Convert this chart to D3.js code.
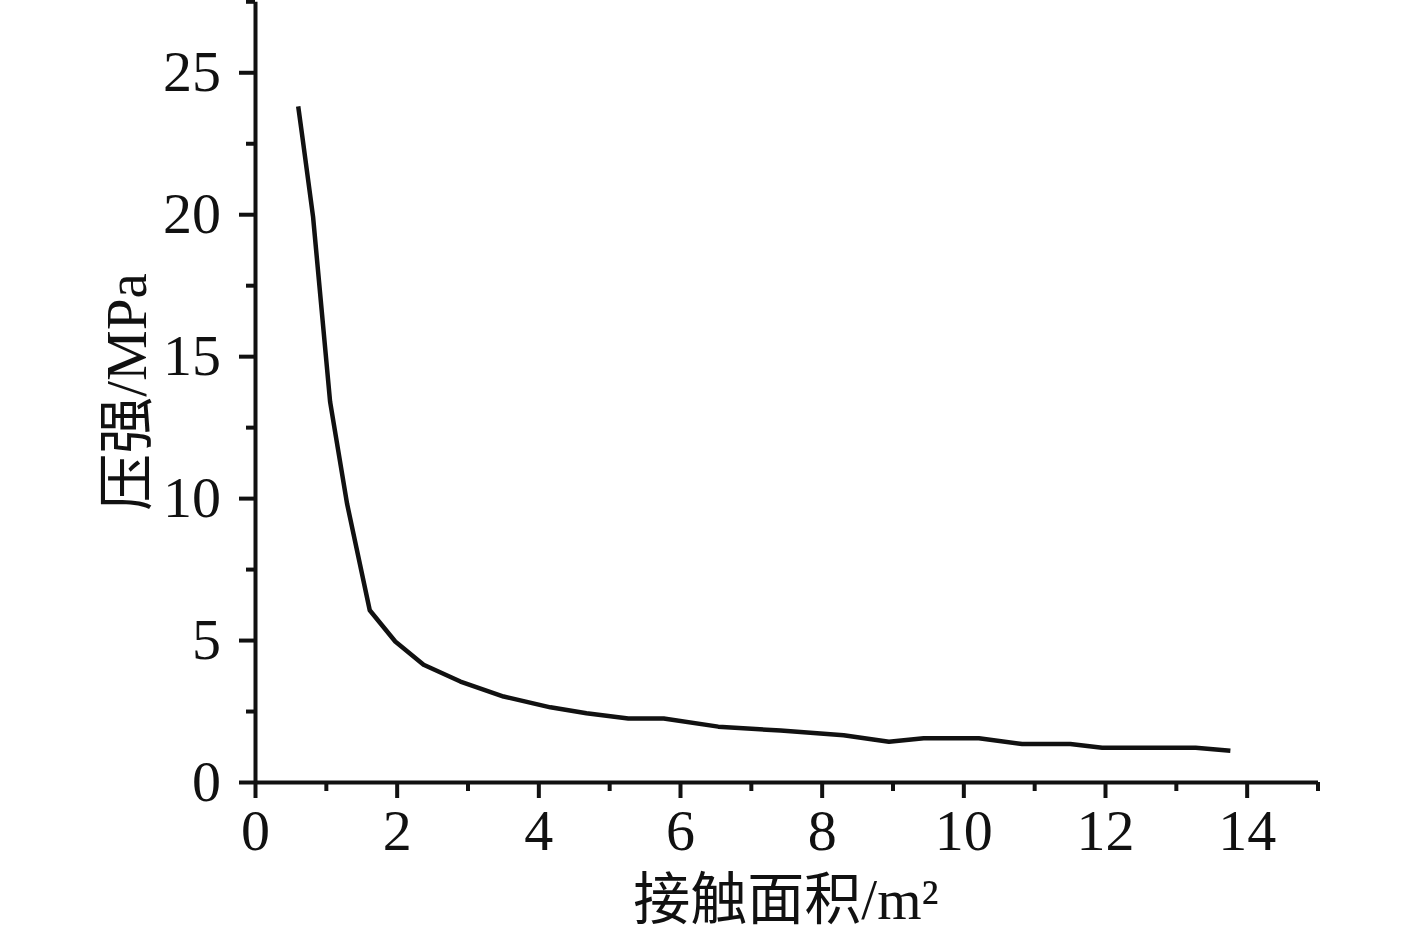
<!DOCTYPE html>
<html>
<head>
<meta charset="utf-8">
<script src="https://cdn.jsdelivr.net/npm/d3@7"></script>
<style>
  body { margin: 0; background: #fff; }
  svg { display: block; }
</style>
</head>
<body>
<script>
// Data
const area = [0.61, 0.67, 0.82, 1.06, 1.30, 1.62, 1.98, 2.38, 2.90, 3.51, 4.17, 4.68, 5.27, 5.77,
              6.54, 7.42, 8.31, 8.95, 9.44, 10.22, 10.83, 11.51, 11.96, 13.28, 13.77];
const pressure = [23.8, 22.7, 19.9, 13.4, 9.8, 6.05, 4.95, 4.13, 3.54, 3.01, 2.63, 2.42, 2.24, 2.24,
                  1.95, 1.81, 1.65, 1.42, 1.54, 1.54, 1.34, 1.34, 1.21, 1.21, 1.10];
const xMajor = [0, 2, 4, 6, 8, 10, 12, 14];
const xMinor = [1, 3, 5, 7, 9, 11, 13, 15];
const yMajor = [0, 5, 10, 15, 20, 25];
const yMinor = [2.5, 7.5, 12.5, 17.5, 22.5, 27.5];
const xTitle = "接触面积/m²";
const yTitle = "压强/MPa";

const W = 1417, H = 930;
const margin = { top: 1.3, left: 255 };
const width = 1062.5, height = 780.7;
const font = "'Liberation Serif', 'Times New Roman', 'Noto Sans CJK SC', serif";

const svg = d3.select("body").append("svg")
    .attr("width", W)
    .attr("height", H);

const g = svg.append("g")
    .attr("transform", `translate(${margin.left},${margin.top})`);

const x = d3.scaleLinear().domain([0, 15]).range([0, width]);
const y = d3.scaleLinear().domain([0, 27.5]).range([height, 0]);

// minor ticks
g.append("g")
    .attr("transform", `translate(0,${height})`)
    .call(d3.axisBottom(x).tickValues(xMinor).tickSize(9).tickFormat(""))
    .call(a => a.select(".domain").remove());
g.append("g")
    .call(d3.axisLeft(y).tickValues(yMinor).tickSize(9).tickFormat(""))
    .call(a => a.select(".domain").remove());

// major ticks + labels
const xAxis = g.append("g")
    .attr("transform", `translate(0,${height})`)
    .call(d3.axisBottom(x).tickValues(xMajor).tickSize(16).tickSizeOuter(0).tickPadding(11));
const yAxis = g.append("g")
    .call(d3.axisLeft(y).tickValues(yMajor).tickSize(16).tickSizeOuter(0).tickPadding(18));

[xAxis, yAxis].forEach(a => {
    a.select(".domain").attr("stroke-width", 4).attr("stroke", "#111");
    a.selectAll(".tick text")
        .attr("font-family", font)
        .attr("font-size", 58)
        .attr("fill", "#111");
});
g.selectAll(".tick line").attr("stroke-width", 4).attr("stroke", "#111");

// the curve
const line = d3.line()
    .x((d, i) => x(area[i]))
    .y(d => y(d));

g.append("path")
    .datum(pressure)
    .attr("fill", "none")
    .attr("stroke", "#111")
    .attr("stroke-width", 4.5)
    .attr("stroke-linejoin", "round")
    .attr("d", line);

// axis titles
svg.append("text")
    .attr("x", 786)
    .attr("y", 919)
    .attr("text-anchor", "middle")
    .attr("font-family", font)
    .attr("font-size", 57)
    .attr("fill", "#111")
    .text(xTitle);

svg.append("text")
    .attr("transform", `translate(146,392) rotate(-90)`)
    .attr("text-anchor", "middle")
    .attr("font-family", font)
    .attr("font-size", 57)
    .attr("fill", "#111")
    .text(yTitle);
</script>
</body>
</html>
